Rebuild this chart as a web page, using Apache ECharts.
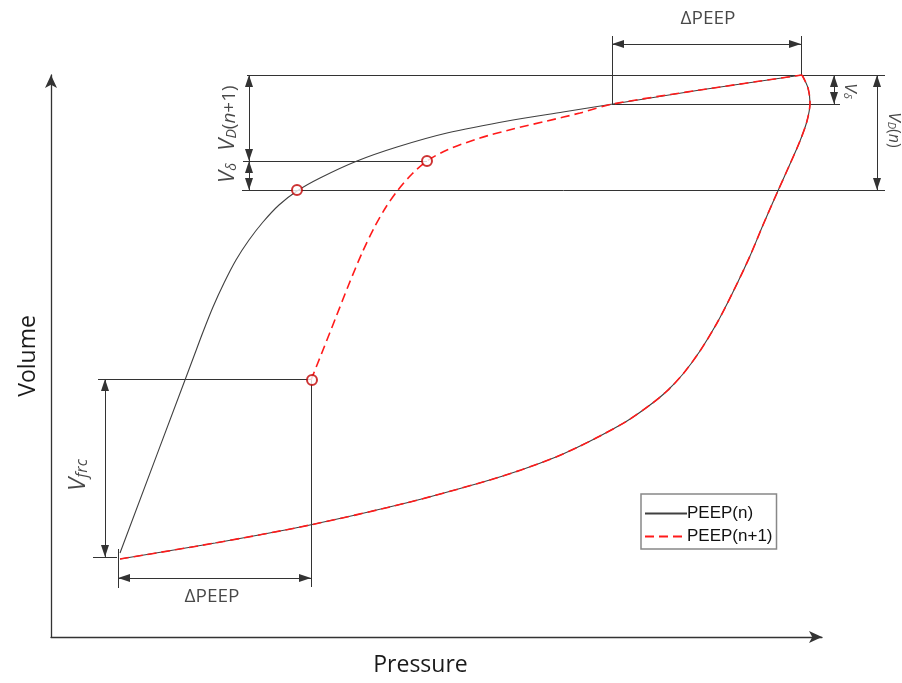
<!DOCTYPE html>
<html><head><meta charset="utf-8">
<script src="https://cdn.jsdelivr.net/npm/echarts@6/dist/echarts.min.js"></script>
<style>html,body{margin:0;padding:0;background:#fff}#c{width:902px;height:683px}</style>
</head><body><div id="c"></div>
<script>
// Data in arbitrary pressure / volume units (origin at the axes corner)
const peepNInsp = [[69,84],[134,257],[143,281],[152,305],[162,330],[173,354],[185,377],[198,397],[212,415],[228,432],[246,446],[269,459],[306,476],[346,490],[396,504],[462,517],[512,525],[562,533],[649,547],[751,562]];
const peepNExp = [[69,78],[164,94],[259,112],[355,134],[432,155],[470,167],[505,180],[527,190],[549,201],[576,216],[599,232],[616,246],[632,263],[649,286],[666,314],[682,345],[699,381],[712,412],[726,444],[739,473],[749,496],[756,516],[759,534],[757,549],[751,562]];
const peepN1Insp = [[260,257],[272,287],[285,320],[298,353],[311,384],[323,409],[335,430],[347,447],[361,463],[376,476],[396,487],[429,499],[462,508],[496,516],[529,524],[562,533],[649,547],[751,562]];
const peepN1Exp = [[69,78],[164,94],[259,112],[355,134],[432,155],[470,167],[505,180],[527,190],[549,201],[576,216],[599,232],[616,246],[632,263],[649,286],[666,314],[682,345],[699,381],[712,412],[726,444],[739,473],[749,496],[756,516],[759,534],[757,549],[751,562]];
const markerPoints = [[246,447],[376,476],[261,257]];

// Dimension lines (data units)
const plainSegments = [
  [[196,562],[834,562]], [[192,476],[376,476]], [[191,447],[834,447]], [[561,533],[789,533]],
  [[561,601],[561,533]], [[750,601],[750,562]],
  [[47,258],[260,258]], [[260,258],[260,50]], [[42,80],[66,80]], [[67,88],[67,49]]
];
const arrowSegments = [
  [[561,593],[750,593]], [[783,562],[783,533]], [[826,562],[826,447]],
  [[198,562],[198,476]], [[198,476],[198,447]], [[54,258],[54,80]], [[67,59],[260,59]]
];
const textItems = [
  {pos:[657,618], text:'{t|ΔPEEP}', rotate:0},
  {pos:[161,40], text:'{t|ΔPEEP}', rotate:0},
  {pos:[27,162], text:'{vf|V}{sf|frc}', rotate:90},
  {pos:[177,519], text:'{v|V}{s|D}{p|(}{i|n}{p|+1)}', rotate:90},
  {pos:[177,464], text:'{v|V}{s|δ}', rotate:90},
  {pos:[799,546], text:'{v2|V}{s2|δ}', rotate:-90},
  {pos:[843,507], text:'{v2|V}{s2|D}{p2|(}{i2|n}{p2|)}', rotate:-90}
];

const FONT = '"Open Sans", "DejaVu Sans", sans-serif';
const C = '#1a1a1a';
const rich = {
  t:{fontSize:19, fontFamily:FONT, color:C},
  vf:{fontSize:24, fontFamily:FONT, fontStyle:'italic', color:C, verticalAlign:'bottom'},
  sf:{fontSize:16, fontFamily:FONT, fontStyle:'italic', color:C, verticalAlign:'bottom'},
  v:{fontSize:22, fontFamily:FONT, fontStyle:'italic', color:C, verticalAlign:'bottom'},
  s:{fontSize:14, fontFamily:FONT, fontStyle:'italic', color:C, verticalAlign:'bottom'},
  p:{fontSize:19, fontFamily:FONT, color:C, verticalAlign:'bottom'},
  i:{fontSize:19, fontFamily:FONT, fontStyle:'italic', color:C, verticalAlign:'bottom'},
  v2:{fontSize:17, fontFamily:FONT, fontStyle:'italic', color:C, verticalAlign:'bottom'},
  s2:{fontSize:11, fontFamily:FONT, fontStyle:'italic', color:C, verticalAlign:'bottom'},
  p2:{fontSize:16, fontFamily:FONT, color:C, verticalAlign:'bottom'},
  i2:{fontSize:16, fontFamily:FONT, fontStyle:'italic', color:C, verticalAlign:'bottom'}
};
// arrow head whose tip sits at the centre of its box
const ARROW = 'path://M0,0 L4,12 L-4,12 Z M0,-12';

const chart = echarts.init(document.getElementById('c'));
const lineSeries = (name, data, color, width, type, z) => ({
  name, type:'line', data, xAxisIndex:0, yAxisIndex:0, symbol:'none', showSymbol:false, smooth:0.3,
  clip:false, z, lineStyle:{color, width, type}, itemStyle:{color}, animation:false
});
chart.setOption({
  animation:false,
  backgroundColor:'#fff',
  grid:[
    {left:51, top:75, right:80, bottom:46},
    {left:0, top:0, right:0, bottom:0}
  ],
  xAxis:[
    {type:'value', gridIndex:0, min:0, max:771, name:'Pressure', nameLocation:'middle', nameGap:17,
     nameTextStyle:{fontSize:23, fontFamily:FONT, color:C, padding:[0,32,0,0]},
     axisLine:{show:true, symbol:['none','arrow'], symbolSize:[9,13], lineStyle:{color:'#333', width:1.3}},
     axisTick:{show:false}, axisLabel:{show:false}, splitLine:{show:false}},
    {type:'value', gridIndex:1, min:-51, max:851, show:false, splitLine:{show:false}}
  ],
  yAxis:[
    {type:'value', gridIndex:0, min:0, max:562, name:'Volume', nameLocation:'middle', nameGap:11,
     nameTextStyle:{fontSize:23, fontFamily:FONT, color:C},
     axisLine:{show:true, symbol:['none','arrow'], symbolSize:[9,13], lineStyle:{color:'#333', width:1.3}},
     axisTick:{show:false}, axisLabel:{show:false}, splitLine:{show:false}},
    {type:'value', gridIndex:1, min:-46, max:637, show:false, splitLine:{show:false}}
  ],
  legend:{
    data:['PEEP(n)','PEEP(n+1)'], orient:'vertical', left:641, top:494,
    itemWidth:42, itemHeight:14, itemGap:6, padding:[11,4,4,3],
    itemStyle:{opacity:0},
    borderColor:'#888', borderWidth:1.5, backgroundColor:'#fff',
    textStyle:{fontFamily:'"Liberation Sans", Arial, sans-serif', fontSize:17, color:'#111', padding:[0,0,0,-5]}
  },
  series:[
    lineSeries('PEEP(n)', peepNInsp, '#404040', 1.1, 'solid', 3),
    lineSeries('PEEP(n)', peepNExp, '#404040', 1.1, 'solid', 3),
    lineSeries('PEEP(n+1)', peepN1Insp, '#ff1a1a', 1.6, [9,5], 4),
    lineSeries('PEEP(n+1)', peepN1Exp, '#ff1a1a', 1.6, [9,5], 4),
    {type:'scatter', xAxisIndex:0, yAxisIndex:0, data:markerPoints, symbol:'emptyCircle', symbolSize:10,
     itemStyle:{color:'#c00000', borderWidth:1.8}, z:6, clip:false},
    {type:'lines', coordinateSystem:'cartesian2d', xAxisIndex:1, yAxisIndex:1, z:2,
     data:plainSegments.map(c=>({coords:c})), symbol:['none','none'],
     lineStyle:{color:'#333', width:1, opacity:1}},
    {type:'lines', coordinateSystem:'cartesian2d', xAxisIndex:1, yAxisIndex:1, z:2,
     data:arrowSegments.map(c=>({coords:c})), symbol:[ARROW, ARROW], symbolSize:[[8,24],[8,24]],
     lineStyle:{color:'#333', width:1, opacity:1}, itemStyle:{color:'#111'}},
    {type:'scatter', xAxisIndex:1, yAxisIndex:1, symbolSize:0, z:7, silent:true,
     data:textItems.map(t=>({value:t.pos, label:{show:true, position:'inside', rotate:t.rotate, formatter:t.text, rich}}))}
  ]
});
</script></body></html>
